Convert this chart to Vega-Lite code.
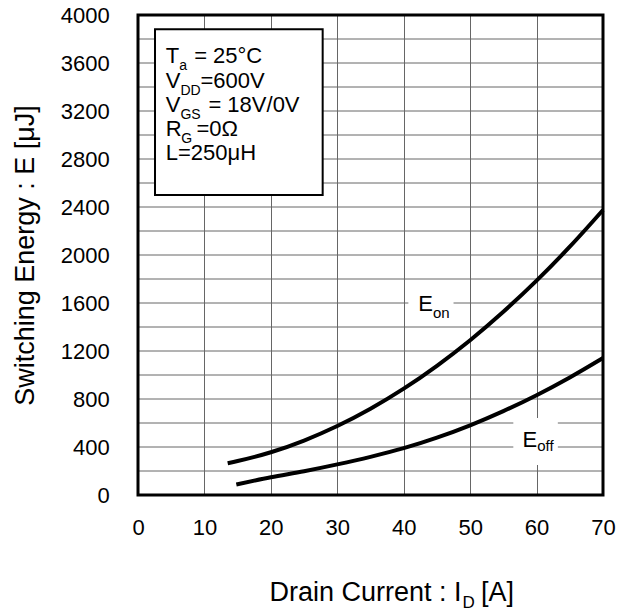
{
  "$schema": "https://vega.github.io/schema/vega-lite/v6.json",
  "autosize": "none",
  "width": 465,
  "height": 480,
  "padding": {"left": 138, "top": 15, "right": 23, "bottom": 118},
  "background": "white",
  "config": {
    "font": "Liberation Sans",
    "view": {"stroke": null},
    "axis": {
      "labelFont": "Liberation Sans",
      "titleFont": "Liberation Sans",
      "labelColor": "black",
      "titleColor": "black",
      "titleFontWeight": "normal",
      "gridColor": "#666666",
      "gridWidth": 1,
      "gridOpacity": 1,
      "ticks": false,
      "domain": false
    }
  },
  "datasets": {
    "gridLevels": [
      {"level": 200}, {"level": 400}, {"level": 600}, {"level": 800}, {"level": 1000},
      {"level": 1200}, {"level": 1400}, {"level": 1600}, {"level": 1800}, {"level": 2000},
      {"level": 2200}, {"level": 2400}, {"level": 2600}, {"level": 2800}, {"level": 3000},
      {"level": 3200}, {"level": 3400}, {"level": 3600}, {"level": 3800}
    ],
    "curves": [
      {"current": 13.5, "energy": 265, "series": "Eon"},
      {"current": 15, "energy": 283, "series": "Eon"},
      {"current": 20, "energy": 356, "series": "Eon"},
      {"current": 25, "energy": 454, "series": "Eon"},
      {"current": 30, "energy": 575, "series": "Eon"},
      {"current": 35, "energy": 719, "series": "Eon"},
      {"current": 40, "energy": 886, "series": "Eon"},
      {"current": 45, "energy": 1077, "series": "Eon"},
      {"current": 50, "energy": 1290, "series": "Eon"},
      {"current": 55, "energy": 1527, "series": "Eon"},
      {"current": 60, "energy": 1786, "series": "Eon"},
      {"current": 65, "energy": 2069, "series": "Eon"},
      {"current": 70, "energy": 2375, "series": "Eon"},
      {"current": 14.8, "energy": 88, "series": "Eoff"},
      {"current": 20, "energy": 148, "series": "Eoff"},
      {"current": 25, "energy": 198, "series": "Eoff"},
      {"current": 30, "energy": 255, "series": "Eoff"},
      {"current": 35, "energy": 318, "series": "Eoff"},
      {"current": 40, "energy": 390, "series": "Eoff"},
      {"current": 45, "energy": 478, "series": "Eoff"},
      {"current": 50, "energy": 581, "series": "Eoff"},
      {"current": 55, "energy": 699, "series": "Eoff"},
      {"current": 60, "energy": 832, "series": "Eoff"},
      {"current": 65, "energy": 980, "series": "Eoff"},
      {"current": 70, "energy": 1142, "series": "Eoff"}
    ],
    "plotFrame": [
      {"x1": 0, "x2": 70, "y1": 0, "y2": 4000}
    ],
    "labelBackgrounds": [
      {"x1": 40.7, "x2": 47.5, "y1": 1450, "y2": 1750},
      {"x1": 56.5, "x2": 63.2, "y1": 250, "y2": 642}
    ],
    "conditionsFrame": [
      {"x1": 2.56, "x2": 27.8, "y1": 2500, "y2": 3881}
    ],
    "conditionsText": [
      {"x": 4.17, "y": 3600, "text": "T"},
      {"x": 8.45, "y": 3600, "text": "= 25°C"},
      {"x": 4.17, "y": 3395, "text": "V"},
      {"x": 9.4, "y": 3395, "text": "=600V"},
      {"x": 4.17, "y": 3195, "text": "V"},
      {"x": 10.6, "y": 3195, "text": "= 18V/0V"},
      {"x": 4.17, "y": 2993, "text": "R"},
      {"x": 8.8, "y": 2993, "text": "=0Ω"},
      {"x": 4.17, "y": 2792, "text": "L=250μH"}
    ],
    "conditionsSubscripts": [
      {"x": 6.22, "y": 3540, "text": "a"},
      {"x": 6.38, "y": 3337, "text": "DD"},
      {"x": 6.38, "y": 3137, "text": "GS"},
      {"x": 6.5, "y": 2935, "text": "G"}
    ],
    "curveLabels": [
      {"x": 42.2, "y": 1533, "text": "E"},
      {"x": 57.9, "y": 402, "text": "E"}
    ],
    "curveLabelSubscripts": [
      {"x": 44.4, "y": 1478, "text": "on"},
      {"x": 60.1, "y": 369, "text": "off"}
    ],
    "xTitleMain": [
      {"x": 48.7, "y": -881, "text": "Drain Current : I"}
    ],
    "xTitleSub": [
      {"x": 48.85, "y": -942, "text": "D"}
    ],
    "xTitleUnit": [
      {"x": 51.63, "y": -881, "text": "[A]"}
    ]
  },
  "layer": [
    {
      "data": {"name": "gridLevels"},
      "mark": {"type": "rule", "color": "#666666", "strokeWidth": 1},
      "encoding": {
        "y": {"field": "level", "type": "quantitative"}
      }
    },
    {
      "data": {"name": "curves"},
      "mark": {"type": "line", "color": "black", "strokeWidth": 4, "interpolate": "monotone", "strokeCap": "butt"},
      "encoding": {
        "x": {
          "field": "current",
          "type": "quantitative",
          "scale": {"domain": [0, 70], "nice": false, "zero": false},
          "axis": {
            "values": [0, 10, 20, 30, 40, 50, 60, 70],
            "format": "d",
            "labelFontSize": 22,
            "labelPadding": 22,
            "labelFlush": false,
            "grid": true,
            "title": null
          }
        },
        "y": {
          "field": "energy",
          "type": "quantitative",
          "scale": {"domain": [0, 4000], "nice": false, "zero": false},
          "axis": {
            "values": [0, 400, 800, 1200, 1600, 2000, 2400, 2800, 3200, 3600, 4000],
            "format": "d",
            "labelFontSize": 22,
            "labelPadding": 28.7,
            "labelFlush": false,
            "labelOverlap": false,
            "grid": false,
            "title": "Switching Energy : E [μJ]",
            "titleFontSize": 27,
            "titlePadding": 21
          }
        },
        "detail": {"field": "series", "type": "nominal"}
      }
    },
    {
      "data": {"name": "plotFrame"},
      "mark": {"type": "rect", "fill": null, "fillOpacity": 0, "stroke": "black", "strokeWidth": 3},
      "encoding": {
        "x": {"field": "x1", "type": "quantitative"},
        "x2": {"field": "x2"},
        "y": {"field": "y1", "type": "quantitative"},
        "y2": {"field": "y2"}
      }
    },
    {
      "data": {"name": "labelBackgrounds"},
      "mark": {"type": "rect", "fill": "white", "strokeWidth": 0},
      "encoding": {
        "x": {"field": "x1", "type": "quantitative"},
        "x2": {"field": "x2"},
        "y": {"field": "y1", "type": "quantitative"},
        "y2": {"field": "y2"}
      }
    },
    {
      "data": {"name": "conditionsFrame"},
      "mark": {"type": "rect", "fill": "white", "stroke": "black", "strokeWidth": 2},
      "encoding": {
        "x": {"field": "x1", "type": "quantitative"},
        "x2": {"field": "x2"},
        "y": {"field": "y1", "type": "quantitative"},
        "y2": {"field": "y2"}
      }
    },
    {
      "data": {"name": "conditionsText"},
      "mark": {"type": "text", "align": "left", "baseline": "alphabetic", "fontSize": 22, "color": "black"},
      "encoding": {
        "x": {"field": "x", "type": "quantitative"},
        "y": {"field": "y", "type": "quantitative"},
        "text": {"field": "text"}
      }
    },
    {
      "data": {"name": "conditionsSubscripts"},
      "mark": {"type": "text", "align": "left", "baseline": "alphabetic", "fontSize": 14, "color": "black"},
      "encoding": {
        "x": {"field": "x", "type": "quantitative"},
        "y": {"field": "y", "type": "quantitative"},
        "text": {"field": "text"}
      }
    },
    {
      "data": {"name": "curveLabels"},
      "mark": {"type": "text", "align": "left", "baseline": "alphabetic", "fontSize": 22, "color": "black"},
      "encoding": {
        "x": {"field": "x", "type": "quantitative"},
        "y": {"field": "y", "type": "quantitative"},
        "text": {"field": "text"}
      }
    },
    {
      "data": {"name": "curveLabelSubscripts"},
      "mark": {"type": "text", "align": "left", "baseline": "alphabetic", "fontSize": 15, "color": "black"},
      "encoding": {
        "x": {"field": "x", "type": "quantitative"},
        "y": {"field": "y", "type": "quantitative"},
        "text": {"field": "text"}
      }
    },
    {
      "data": {"name": "xTitleMain"},
      "mark": {"type": "text", "align": "right", "baseline": "alphabetic", "fontSize": 27, "color": "black"},
      "encoding": {
        "x": {"field": "x", "type": "quantitative"},
        "y": {"field": "y", "type": "quantitative"},
        "text": {"field": "text"}
      }
    },
    {
      "data": {"name": "xTitleSub"},
      "mark": {"type": "text", "align": "left", "baseline": "alphabetic", "fontSize": 17, "color": "black"},
      "encoding": {
        "x": {"field": "x", "type": "quantitative"},
        "y": {"field": "y", "type": "quantitative"},
        "text": {"field": "text"}
      }
    },
    {
      "data": {"name": "xTitleUnit"},
      "mark": {"type": "text", "align": "left", "baseline": "alphabetic", "fontSize": 27, "color": "black"},
      "encoding": {
        "x": {"field": "x", "type": "quantitative"},
        "y": {"field": "y", "type": "quantitative"},
        "text": {"field": "text"}
      }
    }
  ]
}
